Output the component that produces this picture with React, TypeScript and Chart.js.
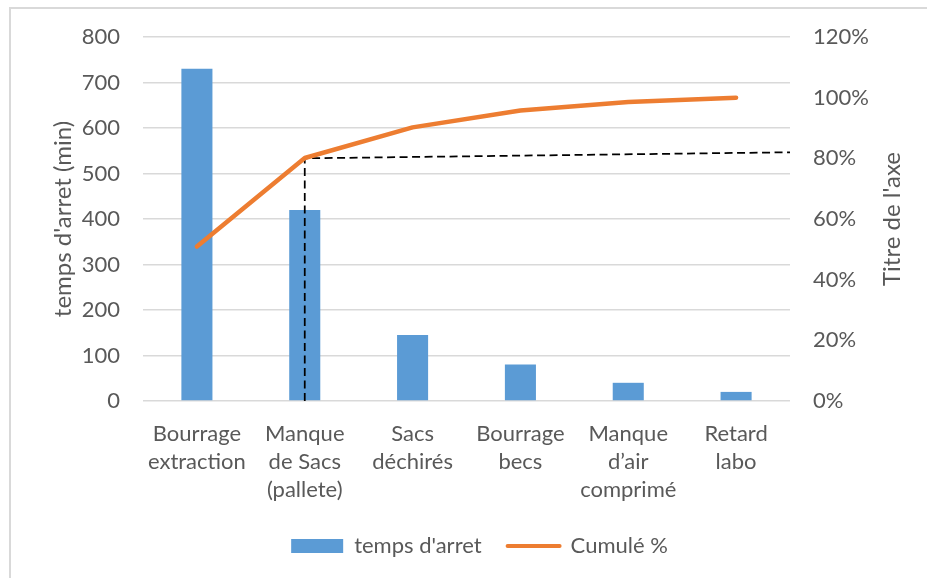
import React, { useEffect, useRef } from "react";
import { Chart, registerables } from "chart.js";

Chart.register(...registerables);

// Pareto of downtime causes
const categories: string[][] = [
  ["Bourrage", "extraction"],
  ["Manque", "de Sacs", "(pallete)"],
  ["Sacs", "déchirés"],
  ["Bourrage", "becs"],
  ["Manque", "d’air", "comprimé"],
  ["Retard", "labo"],
];
const downtimeMinutes = [730, 420, 145, 80, 40, 20];
const cumulativePercent = [50.9, 80.1, 90.2, 95.8, 98.6, 100];

// axis ranges: [min, max, step]
const minutesAxis = [0, 800, 100];
const percentAxis = [0, 120, 20];

// 80 % guide: category position and percent level of each vertex
const guideX = [1, 1, 5.5];
const guideY = [0, 80, 82];

const seriesNames = ["temps d'arret", "Cumulé %"];
const leftTitle = "temps d'arret (min)";
const rightTitle = "Titre de l'axe";

const FONT = "Lato, 'Liberation Sans', sans-serif";
const TEXT = "#595959";
const GRID = "#d9d9d9";
const BLUE = "#5b9bd5";
const ORANGE = "#ed7d31";

// right axis title reads bottom-to-top, like the left one
const rightTitlePlugin = {
  id: "rightTitle",
  afterDraw(chart: any) {
    const s = chart.scales.y1;
    const ctx = chart.ctx;
    ctx.save();
    ctx.translate(s.right - 35, (s.top + s.bottom) / 2);
    ctx.rotate(-Math.PI / 2);
    ctx.font = `24px ${FONT}`;
    ctx.fillStyle = TEXT;
    ctx.textAlign = "center";
    ctx.textBaseline = "middle";
    ctx.fillText(rightTitle, 0, 0);
    ctx.restore();
  },
};

export default function App() {
  const canvasRef = useRef<HTMLCanvasElement | null>(null);

  useEffect(() => {
    const canvas = canvasRef.current;
    if (!canvas) return;
    const chart = new Chart(canvas, {
      type: "bar",
      data: {
        labels: categories,
        datasets: [
          {
            type: "bar",
            label: seriesNames[0],
            data: downtimeMinutes,
            backgroundColor: BLUE,
            borderWidth: 0,
            grouped: false,
            barPercentage: 0.288,
            categoryPercentage: 1,
            xAxisID: "x",
            yAxisID: "y",
            order: 2,
          },
          {
            type: "line",
            label: seriesNames[1],
            data: cumulativePercent,
            borderColor: ORANGE,
            backgroundColor: ORANGE,
            borderWidth: 4.5,
            borderCapStyle: "round",
            borderJoinStyle: "round",
            pointRadius: 0,
            tension: 0,
            xAxisID: "x",
            yAxisID: "y1",
            order: 0,
          },
          {
            type: "line",
            label: "guide",
            data: guideX.map((x, i) => ({ x, y: guideY[i] })),
            borderColor: "#000000",
            borderWidth: 1.75,
            borderDash: [8, 4.5],
            pointRadius: 0,
            tension: 0,
            xAxisID: "xr",
            yAxisID: "y1",
            order: 1,
          },
        ] as any,
      },
      options: {
        animation: false,
        responsive: true,
        maintainAspectRatio: false,
        layout: { padding: { top: 37, left: 32, right: 0, bottom: 11 } },
        plugins: {
          tooltip: { enabled: false },
          legend: {
            position: "bottom",
            labels: {
              font: { family: FONT, size: 22 },
              color: TEXT,
              usePointStyle: true,
              pointStyleWidth: 52,
              boxHeight: 14,
              padding: 26,
              filter: (item: any) => item.datasetIndex < 2,
              sort: (a: any, b: any) => a.datasetIndex - b.datasetIndex,
              generateLabels: (chart: any) => {
                const items = Chart.defaults.plugins.legend.labels.generateLabels(chart);
                return items.map((it: any) => {
                  if (it.datasetIndex === 0) {
                    return { ...it, pointStyle: "rect", lineWidth: 0, fillStyle: BLUE, strokeStyle: BLUE };
                  }
                  return { ...it, pointStyle: "line", lineWidth: 4, strokeStyle: ORANGE, fillStyle: ORANGE, lineCap: "round" };
                });
              },
            },
          },
        },
        scales: {
          x: {
            grid: { display: false },
            border: { display: false },
            ticks: {
              font: { family: FONT, size: 22, lineHeight: 1.27 },
              color: TEXT,
              maxRotation: 0,
              autoSkip: false,
              padding: 11,
            },
            afterFit: (s: any) => {
              s.height = 108;
            },
          },
          xr: {
            type: "linear",
            display: false,
            offset: false,
            bounds: "data",
            min: -0.5,
            max: 5.5,
            ticks: { stepSize: 1 },
          },
          y: {
            position: "left",
            min: minutesAxis[0],
            max: minutesAxis[1],
            ticks: {
              stepSize: minutesAxis[2],
              font: { family: FONT, size: 22 },
              color: TEXT,
              padding: 23,
            },
            grid: { color: GRID, lineWidth: 1.5, drawTicks: false },
            border: { display: false },
            title: {
              display: true,
              text: leftTitle,
              font: { family: FONT, size: 24 },
              color: TEXT,
              padding: { top: 17, bottom: 0 },
            },
            afterFit: (s: any) => {
              s.width = 111;
            },
          },
          y1: {
            position: "right",
            min: percentAxis[0],
            max: percentAxis[1],
            ticks: {
              stepSize: percentAxis[2],
              font: { family: FONT, size: 22 },
              color: TEXT,
              padding: 23,
              callback: (v: any) => `${v}%`,
            },
            grid: { drawOnChartArea: false, drawTicks: false },
            border: { display: false },
            afterFit: (s: any) => {
              s.width = 137;
            },
          },
        },
      } as any,
      plugins: [rightTitlePlugin],
    });
    return () => chart.destroy();
  }, []);

  return (
    <div
      style={{
        position: "absolute",
        left: 0,
        top: 0,
        width: 927,
        height: 578,
        overflow: "hidden",
        background: "#ffffff",
      }}
    >
      <div
        style={{
          position: "absolute",
          left: 9,
          top: 7,
          width: 1000,
          height: 1000,
          borderLeft: `2px solid ${GRID}`,
          borderTop: `2px solid ${GRID}`,
        }}
      />
      <div style={{ position: "absolute", left: 0, top: 0, width: 927, height: 578 }}>
        <canvas ref={canvasRef} />
      </div>
    </div>
  );
}
